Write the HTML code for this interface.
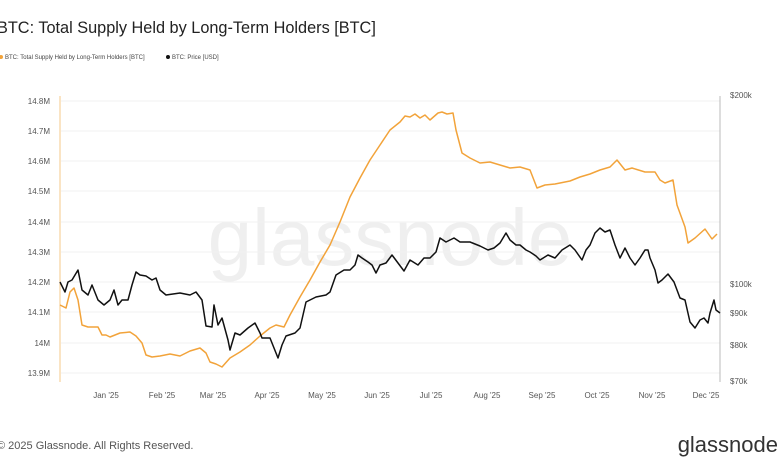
<!DOCTYPE html>
<html><head><meta charset="utf-8"><style>
body{margin:0;background:#fff;width:780px;height:470px;overflow:hidden;font-family:"Liberation Sans",sans-serif}
</style></head><body>
<svg width="780" height="470" xmlns="http://www.w3.org/2000/svg" font-family="Liberation Sans, sans-serif">
<text x="-3" y="33" font-size="16.3" fill="#222">BTC: Total Supply Held by Long-Term Holders [BTC]</text>
<circle cx="1" cy="57" r="2" fill="#f2a33a"/>
<text x="5" y="59" font-size="6" fill="#444">BTC: Total Supply Held by Long-Term Holders [BTC]</text>
<circle cx="168" cy="57" r="2" fill="#111"/>
<text x="172" y="59" font-size="6" fill="#444">BTC: Price [USD]</text>
<text x="390" y="265" font-size="80" fill="#efefef" text-anchor="middle">glassnode</text>
<g stroke="#f0f0f0" stroke-width="1">
<line x1="61" x2="720" y1="101" y2="101"/><line x1="61" x2="720" y1="131" y2="131"/><line x1="61" x2="720" y1="161" y2="161"/><line x1="61" x2="720" y1="191" y2="191"/><line x1="61" x2="720" y1="222" y2="222"/><line x1="61" x2="720" y1="252" y2="252"/><line x1="61" x2="720" y1="282" y2="282"/><line x1="61" x2="720" y1="312" y2="312"/><line x1="61" x2="720" y1="343" y2="343"/><line x1="61" x2="720" y1="373" y2="373"/>
</g>
<line x1="60" x2="60" y1="96" y2="382" stroke="#f6c98a" stroke-width="1"/>
<line x1="720" x2="720" y1="96" y2="382" stroke="#bbb" stroke-width="1"/>
<g font-size="8" fill="#555" text-anchor="end">
<text x="50" y="104">14.8M</text><text x="50" y="134">14.7M</text><text x="50" y="164">14.6M</text><text x="50" y="194">14.5M</text><text x="50" y="225">14.4M</text><text x="50" y="255">14.3M</text><text x="50" y="285">14.2M</text><text x="50" y="315">14.1M</text><text x="50" y="346">14M</text><text x="50" y="376">13.9M</text>
</g>
<g font-size="8" fill="#555">
<text x="730" y="98">$200k</text><text x="730" y="287">$100k</text><text x="730" y="316">$90k</text><text x="730" y="348">$80k</text><text x="730" y="384">$70k</text>
</g>
<g font-size="8" fill="#555" text-anchor="middle">
<text x="106" y="398">Jan '25</text><text x="162" y="398">Feb '25</text><text x="213" y="398">Mar '25</text><text x="267" y="398">Apr '25</text><text x="322" y="398">May '25</text><text x="377" y="398">Jun '25</text><text x="431" y="398">Jul '25</text><text x="487" y="398">Aug '25</text><text x="542" y="398">Sep '25</text><text x="597" y="398">Oct '25</text><text x="652" y="398">Nov '25</text><text x="706" y="398">Dec '25</text>
</g>
<polyline fill="none" stroke="#f2a33a" stroke-width="1.5" stroke-linejoin="round" points="60,305 66,308 70,292 74,288 78,300 82,325 88,327 98,327 102,335 106,335 110,337 120,333 130,332 136,336 142,343 146,355 152,357 160,356 170,354 180,356 190,351 200,348 206,353 210,362 216,364 222,367 230,358 240,352 250,345 260,336 270,328 276,325 284,327 290,315 300,297 310,280 320,262 330,245 340,222 350,197 360,178 370,160 380,145 390,130 400,122 405,116 410,117 415,114 420,118 425,115 430,120 438,113 442,112 447,114 453,113 456,130 462,153 470,158 480,163 490,162 500,165 510,168 520,167 530,170 537,188 545,185 555,184 570,181 580,177 590,174 600,170 610,167 617,160 625,170 632,168 645,172 655,172 660,180 665,183 673,180 677,205 685,227 688,243 695,238 705,229 712,239 717,234"/>
<polyline fill="none" stroke="#111" stroke-width="1.5" stroke-linejoin="round" points="60,282 65,292 68,282 72,280 78,270 82,290 88,295 92,285 98,300 104,305 110,300 114,290 118,305 122,300 128,300 132,285 136,272 140,275 146,276 152,280 156,278 160,290 166,295 180,293 190,295 196,292 202,300 206,326 212,327 214,305 218,325 222,318 228,340 230,350 235,333 240,335 248,328 255,323 260,333 262,338 270,338 274,348 278,358 282,345 286,336 295,333 300,328 306,302 316,297 326,295 330,292 336,275 344,270 350,270 355,265 358,255 362,258 368,262 372,265 376,273 380,265 386,263 392,255 398,263 404,271 410,260 418,265 424,258 430,258 436,252 440,238 446,242 454,238 460,242 470,242 480,246 488,250 494,248 500,243 506,233 510,240 516,245 520,245 526,250 530,252 536,256 540,260 548,255 555,258 562,250 570,245 575,250 582,260 586,250 590,245 595,233 600,228 605,232 610,230 615,245 620,258 625,248 630,258 635,265 640,258 645,250 648,250 650,258 655,270 658,283 662,280 668,274 674,282 680,298 685,300 690,322 695,328 700,320 704,318 708,323 710,313 714,300 716,310 720,313"/>
<text x="-3" y="449" font-size="11" fill="#555">© 2025 Glassnode. All Rights Reserved.</text>
<text x="778" y="452" font-size="22" fill="#333" text-anchor="end">glassnode</text>
</svg>
</body></html>
